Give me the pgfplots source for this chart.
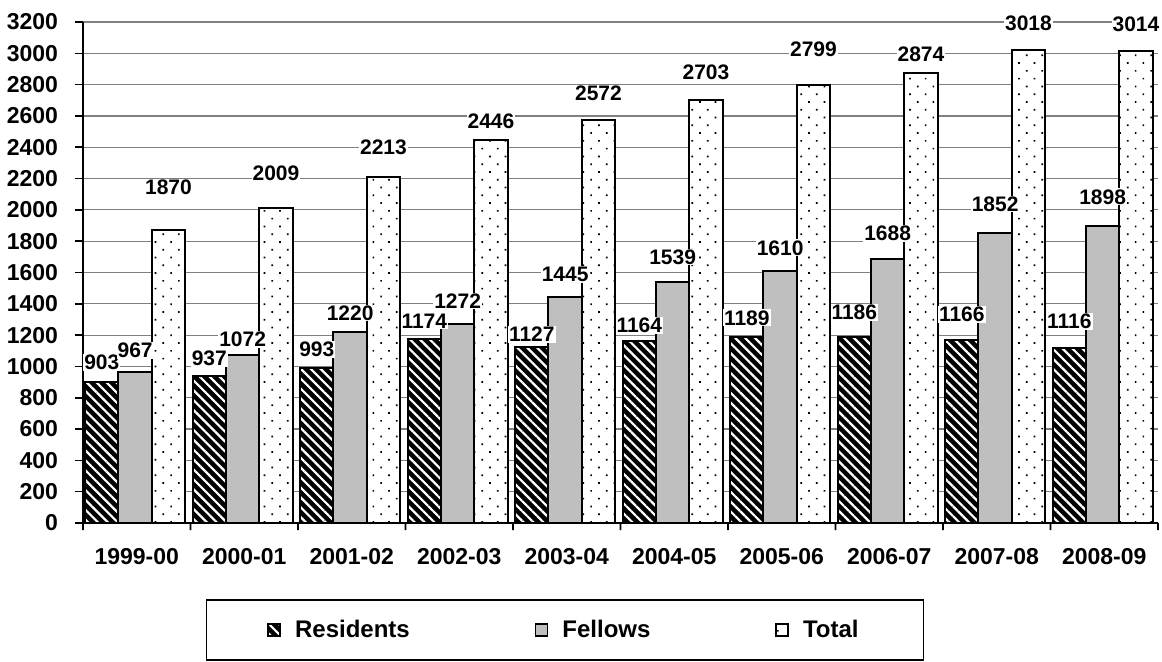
\documentclass[border=0pt]{standalone}
\usepackage{fontspec}
\setmainfont{Liberation Sans}
\usepackage{pgfplots}
\pgfplotsset{compat=1.18}
\usepackage{pgfplotstable}
\usetikzlibrary{patterns.meta}

% values and label offsets (pt above bar top)
\pgfplotstableread{
x res fel tot ores ofel otot
0 903  967  1870 9.5  10.5 21.5
1 937  1072 2009 9    8    17.5
2 993  1220 2213 9    9.5  14.5
3 1174 1272 2446 9    11.5 9.5
4 1127 1445 2572 6    11   13.5
5 1164 1539 2703 7.5  12.5 14
6 1189 1610 2799 9.5  11.5 18
7 1186 1688 2874 12.5 12.5 9.5
8 1166 1852 3018 13   14.5 13.5
9 1116 1898 3014 13.5 14.5 13.5
}\datatable

% 1pt on the y axis = 3200/250.5 units
\def\ptunit{12.775}

\pgfplotsset{
  resstyle/.style={ybar, bar width=0.31, draw=black, line width=1pt, preaction={fill=black},
    pattern={Lines[angle=-45,distance=3.5pt,line width=1.1pt]}, pattern color=white},
  felstyle/.style={ybar, bar width=0.31, draw=black, line width=1pt, fill=black!25},
  totstyle/.style={ybar, bar width=0.31, draw=black, line width=1pt, preaction={fill=white},
    pattern={Dots[distance=5.5pt,angle=45,radius=0.6pt]}, pattern color=black},
  lbl/.style={draw=none, mark=none, forget plot, nodes near coords,
    every node near coord/.append style={anchor=center,
      fill=white, inner sep=0.5pt, font=\bfseries\fontsize{10.5}{12}\selectfont}},
}

\begin{document}
\begin{tikzpicture}
\begin{axis}[
  scale only axis, width=537.5pt, height=250.5pt,
  xmin=-0.5, xmax=9.5, ymin=0, ymax=3200,
  clip=false,
  axis x line*=bottom, axis y line*=left,
  axis line style={line width=1pt},
  xtick={-0.5,0.5,1.5,2.5,3.5,4.5,5.5,6.5,7.5,8.5,9.5},
  x tick label as interval,
  xticklabels={1999-00,2000-01,2001-02,2002-03,2003-04,2004-05,2005-06,2006-07,2007-08,2008-09},
  ytick={0,200,...,3200},
  yticklabel={\pgfmathprintnumber{\tick}},
  xtick align=outside, ytick align=outside,
  major tick length=4pt,
  tick style={black, line width=0.8pt},
  xtick style={draw=none},
  ymajorgrids=true,
  y grid style={black!50, line width=0.6pt},
  scaled y ticks=false,
  /pgf/number format/assume math mode=true,
  /pgf/number format/1000 sep={},
  ticklabel style={font=\bfseries\fontsize{11.5}{13}\selectfont},
  xticklabel style={yshift=-5pt},
  yticklabel style={xshift=-5pt},
  legend columns=3,
  legend image code/.code={\draw[#1, line width=0.6pt] (0pt,-3pt) rectangle (6pt,3pt); \path (11pt,0pt);},
  legend style={at={(0.4484,-0.1517)}, anchor=north, draw=black, line width=0.8pt,
    inner xsep=30.5pt, inner ysep=8pt, cells={anchor=west},
    font=\bfseries\fontsize{12}{14}\selectfont,
    /tikz/every even column/.append style={column sep=60.5pt}},
]
\addplot[resstyle, bar shift=-0.325] table[x=x, y=res] {\datatable};
\addplot[felstyle, bar shift=-0.015] table[x=x, y=fel] {\datatable};
\addplot[totstyle, bar shift=0.295] table[x=x, y=tot] {\datatable};
\legend{Residents, Fellows, Total}
% short marks below the axis at the group boundaries, as thin filled bars
\addplot[ybar, bar width=0.9pt, bar shift=0pt, fill=black, draw=none, forget plot] coordinates {
  (-0.5,-45) (0.5,-45) (1.5,-45) (2.5,-45) (3.5,-45) (4.5,-45)
  (5.5,-45) (6.5,-45) (7.5,-45) (8.5,-45) (9.5,-45)};
\addplot[lbl, point meta=\thisrow{res}] table[x expr=\thisrow{x}-0.325, y expr=\thisrow{res}+\ptunit*\thisrow{ores}] {\datatable};
\addplot[lbl, point meta=\thisrow{fel}] table[x expr=\thisrow{x}-0.015, y expr=\thisrow{fel}+\ptunit*\thisrow{ofel}] {\datatable};
\addplot[lbl, point meta=\thisrow{tot}] table[x expr=\thisrow{x}+0.295, y expr=\thisrow{tot}+\ptunit*\thisrow{otot}] {\datatable};
\end{axis}
\pgfresetboundingbox
\useasboundingbox (-41.5pt,-69.5pt) rectangle (539.5pt,261.5pt);
\end{tikzpicture}
\end{document}
